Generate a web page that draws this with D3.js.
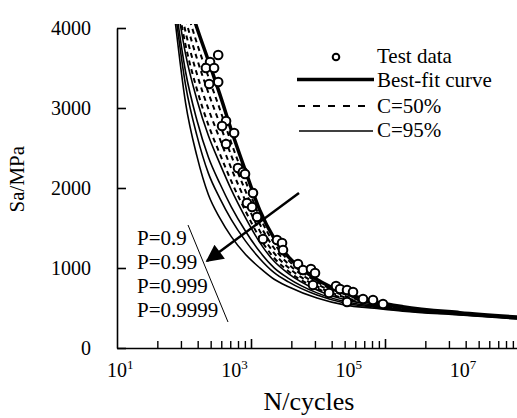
<!DOCTYPE html>
<html>
<head>
<meta charset="utf-8">
<script src="https://cdn.jsdelivr.net/npm/d3@7"></script>
<style>
  body { margin: 0; background: #fff; }
  svg text { font-family: 'Liberation Serif', 'Times New Roman', Times, 'DejaVu Serif', serif; fill: #000; }
</style>
</head>
<body>
<div id="chart"></div>
<script>
// SVG size
var svgWidth = 517;
var svgHeight = 418;

// plot frame (pixels)
var margin = {top: 28, right: 0, bottom: 70, left: 117};
var width = svgWidth - margin.left - margin.right;
var height = svgHeight - margin.top - margin.bottom;
var serif = "'Liberation Serif', 'Times New Roman', Times, 'DejaVu Serif', serif";

// ---- data ----
// log10(N) grid the fitted curves are read at
var logCycles = [2.0, 2.2, 2.4, 2.6, 2.8, 3.0, 3.25, 3.5, 3.75, 4.0, 4.5, 5.0, 5.5, 6.0, 7.0, 8.0];

// best-fit curve (Sa, MPa)
var bestFit   = [4950, 4450, 4000, 3590, 3170, 2725, 2210, 1720, 1370, 1140, 855, 685, 582, 517, 442, 387];
// C=50% curves
var c50P9     = [4860, 4284, 3807, 3389, 2984, 2565, 2085, 1634, 1309, 1095, 827, 667, 572, 510, 438, 384];
var c50P99    = [4770, 4118, 3615, 3188, 2799, 2405, 1960, 1547, 1247, 1050, 800, 649, 562, 503, 435, 381];
var c50P999   = [4680, 3951, 3422, 2987, 2613, 2245, 1835, 1461, 1186, 1005, 772, 631, 551, 496, 431, 378];
var c50P9999  = [4590, 3785, 3230, 2786, 2427, 2085, 1710, 1375, 1125, 960, 745, 613, 541, 490, 428, 375];
// C=95% curves
var c95P9     = [4530, 3674, 3101, 2652, 2304, 1979, 1627, 1317, 1084, 931, 726, 602, 534, 485, 425, 373];
var c95P99    = [4410, 3453, 2844, 2384, 2056, 1765, 1460, 1202, 1002, 871, 689, 578, 521, 476, 420, 369];
var c95P999   = [4320, 3287, 2652, 2183, 1871, 1605, 1336, 1116, 941, 826, 662, 560, 511, 469, 417, 366];
var c95P9999  = [4200, 3065, 2395, 1915, 1623, 1392, 1169, 1001, 859, 766, 625, 536, 497, 460, 412, 362];

// test data
var testN  = [590, 425, 360, 500, 590, 410, 810, 690, 1120, 810, 1310, 1600, 1740, 2400, 1880, 2310, 2820,
              3590, 6310, 7730, 8040, 14700, 18000, 24800, 29200, 26900, 68100, 80000, 106000, 135000,
              51300, 106000, 202000, 302000, 452000];
var testSa = [3662, 3575, 3500, 3500, 3325, 3300, 2837, 2775, 2687, 2550, 2250, 2200, 2175, 1937, 1812, 1762, 1637,
              1362, 1350, 1312, 1225, 1050, 975, 987, 937, 787, 775, 737, 725, 700,
              687, 575, 612, 600, 550];

// axes
var yTicks = [0, 1000, 2000, 3000, 4000];
var xLabelExponents = [1, 3, 5, 7];
var probLabels = ["P=0.9", "P=0.99", "P=0.999", "P=0.9999"];

// arrow annotation (N, Sa): from tail to head
var arrowFrom = [15300, 1937];
var arrowTo   = [376, 1087];

// legend entries
var legendLabels = ["Test data", "Best-fit curve", "C=50%", "C=95%"];

// ---- svg ----
var svg = d3.select("#chart")
  .append("svg")
  .attr("width", svgWidth)
  .attr("height", svgHeight)
  .style("font-family", serif);

var chartGroup = svg.append("g")
  .attr("transform", `translate(${margin.left}, ${margin.top})`);

// scales
var xScale = d3.scaleLog()
  .domain([10, 1e8])
  .range([0, width]);

var yScale = d3.scaleLinear()
  .domain([0, 4000])
  .range([height, 0]);

// the tick marks under the axis follow their own decade spacing
var tickScale = d3.scaleLog()
  .domain([1, 1000])
  .range([0, 402]);

var minorTicks = [];
var majorTicks = [10, 100, 1000];
[1, 10, 100].forEach(function(d) {
  for (var k = 2; k <= 9; k++) minorTicks.push(k * d);
});

// clip for curves
svg.append("defs").append("clipPath")
  .attr("id", "plotClip")
  .append("rect")
  .attr("x", 0)
  .attr("y", -4)
  .attr("width", width)
  .attr("height", height + 4);

var curveGroup = chartGroup.append("g").attr("clip-path", "url(#plotClip)");

var line = d3.line()
  .x(function(d, i) { return xScale(Math.pow(10, logCycles[i])); })
  .y(function(d) { return yScale(d); })
  .curve(d3.curveMonotoneX);

// C=95% solid thin
[c95P9, c95P99, c95P999, c95P9999].forEach(function(s) {
  curveGroup.append("path")
    .datum(s)
    .attr("d", line)
    .attr("fill", "none")
    .attr("stroke", "#000")
    .attr("stroke-width", 1.6);
});

// C=50% dashed
[c50P9, c50P99, c50P999, c50P9999].forEach(function(s) {
  curveGroup.append("path")
    .datum(s)
    .attr("d", line)
    .attr("fill", "none")
    .attr("stroke", "#000")
    .attr("stroke-width", 2)
    .attr("stroke-dasharray", "5,4");
});

// best fit
curveGroup.append("path")
  .datum(bestFit)
  .attr("d", line)
  .attr("fill", "none")
  .attr("stroke", "#000")
  .attr("stroke-width", 3.5);

// test data circles
chartGroup.selectAll(".testPoint")
  .data(testN)
  .enter()
  .append("circle")
  .attr("class", "testPoint")
  .attr("cx", function(d) { return xScale(d); })
  .attr("cy", function(d, i) { return yScale(testSa[i]); })
  .attr("r", 4.3)
  .attr("fill", "#fff")
  .attr("stroke", "#000")
  .attr("stroke-width", 2);

// y axis
var leftAxis = d3.axisLeft(yScale)
  .tickValues(yTicks)
  .tickFormat(d3.format("d"))
  .tickSizeInner(-9)
  .tickSizeOuter(0)
  .tickPadding(26);

var yAxisG = chartGroup.append("g").call(leftAxis);
yAxisG.attr("font-family", serif).attr("font-size", 20);
yAxisG.select(".domain").attr("stroke-width", 1.6);
yAxisG.selectAll(".tick line").attr("stroke-width", 1.6);

// x axis: minor and major tick marks
var xMinorAxis = d3.axisBottom(tickScale)
  .tickValues(minorTicks)
  .tickSizeInner(-7)
  .tickSizeOuter(0)
  .tickFormat("");

var xMajorAxis = d3.axisBottom(tickScale)
  .tickValues(majorTicks)
  .tickSizeInner(-9)
  .tickSizeOuter(0)
  .tickFormat("");

var xAxisG = chartGroup.append("g")
  .attr("transform", `translate(0, ${height})`)
  .call(xMinorAxis);
xAxisG.select(".domain").attr("stroke-width", 1.6);
xAxisG.selectAll(".tick line").attr("stroke-width", 1.4);

var xMajorG = chartGroup.append("g")
  .attr("transform", `translate(0, ${height})`)
  .call(xMajorAxis);
xMajorG.select(".domain").remove();
xMajorG.selectAll(".tick line").attr("stroke-width", 1.6);

// x tick labels 10^k
var xLabels = chartGroup.selectAll(".xLabel")
  .data(xLabelExponents)
  .enter()
  .append("text")
  .attr("class", "xLabel")
  .attr("x", function(d) { return xScale(Math.pow(10, d)) - 10; })
  .attr("y", height + 29)
  .attr("font-size", "20px");
xLabels.append("tspan").text("10");
xLabels.append("tspan")
  .attr("font-size", "13px")
  .attr("dy", -8)
  .text(function(d) { return d; });

// axis titles
chartGroup.append("text")
  .attr("transform", `translate(${-93}, ${yScale(2110)}) rotate(-90)`)
  .attr("text-anchor", "middle")
  .attr("font-size", "21px")
  .text("Sa/MPa");

chartGroup.append("text")
  .attr("x", 192)
  .attr("y", height + 62)
  .attr("text-anchor", "middle")
  .attr("font-size", "26px")
  .text("N/cycles");

// arrow
svg.append("defs").append("marker")
  .attr("id", "arrowHead")
  .attr("viewBox", "0 0 10 10")
  .attr("refX", 9)
  .attr("refY", 5)
  .attr("markerWidth", 8)
  .attr("markerHeight", 7)
  .attr("markerUnits", "strokeWidth")
  .attr("orient", "auto")
  .append("path")
  .attr("d", "M0,0 L10,5 L0,10 Z")
  .attr("fill", "#000");

chartGroup.append("line")
  .attr("x1", xScale(arrowFrom[0]))
  .attr("y1", yScale(arrowFrom[1]))
  .attr("x2", xScale(arrowTo[0]))
  .attr("y2", yScale(arrowTo[1]))
  .attr("stroke", "#000")
  .attr("stroke-width", 2.5)
  .attr("marker-end", "url(#arrowHead)");

// P labels and slanted bracket line
chartGroup.selectAll(".pLabel")
  .data(probLabels)
  .enter()
  .append("text")
  .attr("class", "pLabel")
  .attr("x", 20)
  .attr("y", function(d, i) { return 217 + i * 24; })
  .attr("font-size", "21px")
  .text(function(d) { return d; });

chartGroup.append("line")
  .attr("x1", 71)
  .attr("y1", 197)
  .attr("x2", 111)
  .attr("y2", 294)
  .attr("stroke", "#000")
  .attr("stroke-width", 1);

// legend
var legend = svg.append("g").attr("transform", "translate(297, 0)");

legend.append("circle")
  .attr("cx", 39)
  .attr("cy", 57)
  .attr("r", 3.3)
  .attr("fill", "#fff")
  .attr("stroke", "#000")
  .attr("stroke-width", 2);

legend.append("line")
  .attr("x1", 0).attr("x2", 77)
  .attr("y1", 79.5).attr("y2", 79.5)
  .attr("stroke", "#000")
  .attr("stroke-width", 3.5);

legend.append("line")
  .attr("x1", 1).attr("x2", 74)
  .attr("y1", 106).attr("y2", 106)
  .attr("stroke", "#000")
  .attr("stroke-width", 2)
  .attr("stroke-dasharray", "7,8");

legend.append("line")
  .attr("x1", 2).attr("x2", 76)
  .attr("y1", 131).attr("y2", 131)
  .attr("stroke", "#000")
  .attr("stroke-width", 1.6);

legend.selectAll(".legendText")
  .data(legendLabels)
  .enter()
  .append("text")
  .attr("class", "legendText")
  .attr("x", 80)
  .attr("y", function(d, i) { return [63, 87, 113, 137][i]; })
  .attr("font-size", "21px")
  .text(function(d) { return d; });
</script>
</body>
</html>
